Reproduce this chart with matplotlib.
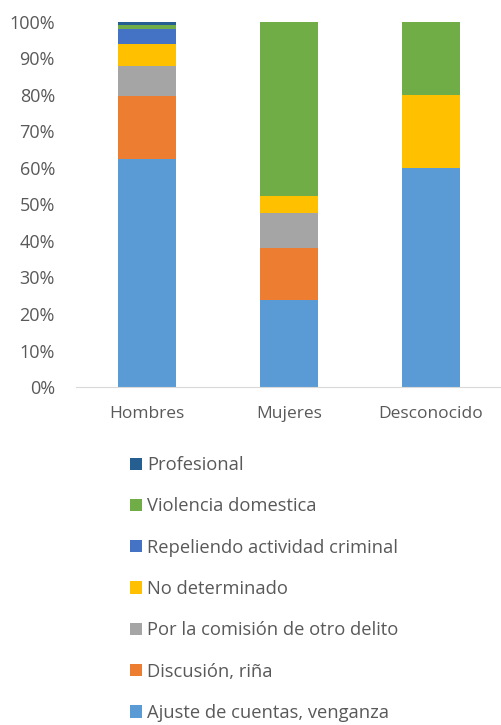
import matplotlib.pyplot as plt
import numpy as np

plt.rcParams['font.family'] = ['Open Sans', 'DejaVu Sans']

grupos = ["Hombres", "Mujeres", "Desconocido"]
series = ["Ajuste de cuentas, venganza", "Discusión, riña", "Por la comisión de otro delito",
          "No determinado", "Repeliendo actividad criminal", "Violencia domestica", "Profesional"]
colores = ["#5B9BD5", "#ED7D31", "#A5A5A5", "#FFC000", "#4472C4", "#70AD47", "#255E91"]

# porcentajes por grupo (de abajo hacia arriba)
ajuste = [62.4, 23.8, 60.0]
discusion = [17.3, 14.3, 0.0]
comision = [8.2, 9.5, 0.0]
no_determinado = [6.0, 4.8, 20.0]
repeliendo = [4.2, 0.0, 0.0]
violencia = [1.1, 47.6, 20.0]
profesional = [0.8, 0.0, 0.0]
valores = [ajuste, discusion, comision, no_determinado, repeliendo, violencia, profesional]

fig = plt.figure(figsize=(5.02, 7.25), dpi=100)
ax = fig.add_axes([0.151, 0.4662, 0.849, 0.5035])

x = np.arange(len(grupos))
base = np.zeros(len(grupos))
handles = []
for nombre, vals, col in zip(series, valores, colores):
    b = ax.bar(x, vals, 0.41, bottom=base, color=col, label=nombre)
    handles.append(b)
    base += np.array(vals)

ax.set_xlim(-0.5, 2.5)
ax.set_ylim(0, 100)
ax.set_yticks(range(0, 101, 10))
ax.set_yticklabels([f"{v}%" for v in range(0, 101, 10)])
ax.set_xticks(x)
ax.set_xticklabels(grupos)
ax.tick_params(length=0, labelsize=12.5, colors="#595959")
ax.tick_params(axis="y", pad=15, labelsize=13)
ax.tick_params(axis="x", pad=14)
for s in ["top", "right", "left"]:
    ax.spines[s].set_visible(False)
ax.spines["bottom"].set_color("#D9D9D9")

fig.legend(handles[::-1], series[::-1], loc="upper left", bbox_to_anchor=(0.241, 0.3835),
           frameon=False, fontsize=13.2, labelspacing=1.27, handlelength=0.66, handleheight=0.66,
           handletextpad=0.28, labelcolor="#595959", borderpad=0)

fig.savefig("out.png", dpi=100)
